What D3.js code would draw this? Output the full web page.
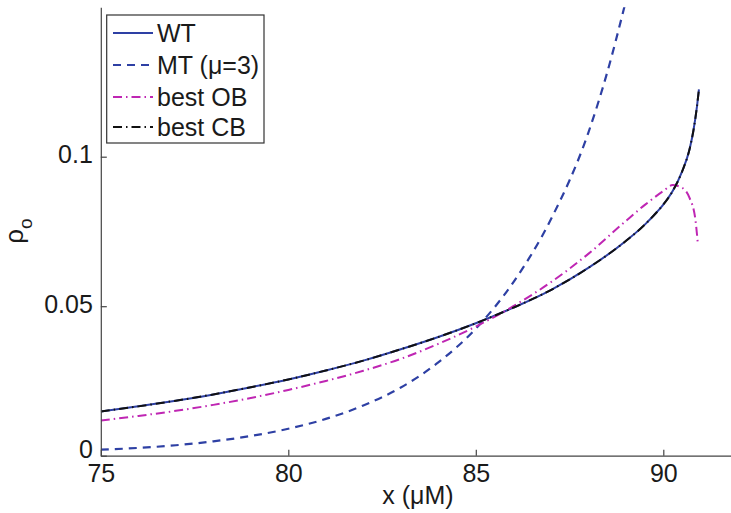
<!DOCTYPE html>
<html>
<head>
<meta charset="utf-8">
<script src="https://cdn.jsdelivr.net/npm/d3@7"></script>
<style>
html,body{margin:0;padding:0;background:#fff;}
svg{display:block;font-family:"Liberation Sans",Arial,Helvetica,sans-serif;}
</style>
</head>
<body>
<svg id="chart" width="731" height="513"></svg>
<script>
// ---- data ----
const xTicks = [75, 80, 85, 90];
const yTicks = [0, 0.05, 0.1];
const yTickLabels = ["0", "0.05", "0.1"];

const wtX = [75,76,77,78,79,80,81,82,83,84,85,86,87,88,89,89.5,89.83,90,90.25,90.5,90.7,90.8,90.9,90.95];
const wtY = [0.0148,0.0165,0.0184,0.0205,0.0229,0.0255,0.0285,0.0318,0.0356,0.0397,0.0443,0.0495,0.0554,0.0628,0.0718,0.0772,0.0815,0.0840,0.0885,0.0950,0.1025,0.1085,0.1170,0.1225];

const mtX = [75,76,77,78,79,80,81,82,83,84,85,86,87,88,88.5,89];
const mtY = [0.0020,0.0026,0.0035,0.0048,0.0066,0.0090,0.0123,0.0168,0.0228,0.0312,0.0425,0.0580,0.0790,0.1080,0.1280,0.1520];

const obX = [75,76,77,78,79,80,81,82,83,84,85,86,87,88,89,89.5,90,90.25,90.5,90.7,90.85,90.92];
const obY = [0.0118,0.0133,0.0150,0.0170,0.0193,0.0220,0.0250,0.0284,0.0324,0.0374,0.0432,0.0500,0.0580,0.0675,0.0785,0.0838,0.0885,0.0905,0.0896,0.0862,0.0795,0.0711];

const cbX = [75,76,77,78,79,80,81,82,83,84,85,86,87,88,89,89.5,89.83,90,90.25,90.5,90.7,90.8,90.9,90.95];
const cbY = [0.0148,0.0165,0.0184,0.0205,0.0229,0.0255,0.0285,0.0318,0.0356,0.0397,0.0443,0.0495,0.0554,0.0628,0.0718,0.0772,0.0815,0.0840,0.0885,0.0950,0.1025,0.1085,0.1170,0.1225];

const seriesNames = ["WT", "MT (\u03bc=3)", "best OB", "best CB"];

// ---- layout ----
const svg = d3.select("#chart");
const plotLeft = 100.8, plotBottom = 455.7, plotTop = 7.2;
const x = d3.scaleLinear().domain([75, 92]).range([plotLeft, plotLeft + 17 * 37.5]);
const y = d3.scaleLinear().domain([0, 0.15]).range([plotBottom, plotTop]);

const blue = "#2e40a4", magenta = "#bf26b3", black = "#111";
const fontSize = "25px";

const styles = [
  {color: blue, width: 2, dash: null},
  {color: blue, width: 2.2, dash: "8,6"},
  {color: magenta, width: 2, dash: "9,4,1.5,4"},
  {color: black, width: 2, dash: "9,4,1.5,4"}
];

svg.append("defs").append("clipPath").attr("id", "clip")
  .append("rect").attr("x", plotLeft).attr("y", plotTop).attr("width", 731 - plotLeft).attr("height", plotBottom - plotTop);

const line = d3.line().x(d => x(d[0])).y(d => y(d[1])).curve(d3.curveMonotoneX);
const data = [
  d3.zip(wtX, wtY),
  d3.zip(mtX, mtY),
  d3.zip(obX, obY),
  d3.zip(cbX, cbY)
];
const plot = svg.append("g").attr("clip-path", "url(#clip)");
data.forEach((d, i) => {
  plot.append("path").datum(d).attr("d", line)
    .attr("fill", "none").attr("stroke", styles[i].color)
    .attr("stroke-width", styles[i].width)
    .attr("stroke-dasharray", styles[i].dash);
});

// ---- axes ----
const axisColor = "#444";
const xAxis = svg.append("g").attr("transform", `translate(0,${plotBottom})`)
  .call(d3.axisBottom(x).tickValues(xTicks).tickFormat(d3.format("d")).tickSizeInner(-6).tickSizeOuter(0).tickPadding(9));
const yAxis = svg.append("g").attr("transform", `translate(${plotLeft},0)`)
  .call(d3.axisLeft(y).tickValues(yTicks).tickFormat((d, i) => yTickLabels[i]).tickSizeInner(-6).tickSizeOuter(0).tickPadding(8));
[xAxis, yAxis].forEach(a => {
  a.select(".domain").attr("stroke", axisColor).attr("stroke-width", 1.2);
  a.selectAll(".tick line").attr("stroke", axisColor).attr("stroke-width", 1.2);
  a.selectAll(".tick text").attr("fill", "#1a1a1a").style("font-size", fontSize).attr("font-family", null);
});
yAxis.selectAll(".tick text").attr("dy", d => d === 0 ? "0.08em" : "0.25em");

// axis labels
svg.append("text").attr("x", 418).attr("y", 504).attr("text-anchor", "middle")
  .attr("fill", "#1a1a1a").style("font-size", fontSize).text("x (\u03bcM)");
const yl = svg.append("text").attr("transform", "translate(23,231) rotate(-90)")
  .attr("text-anchor", "middle").attr("fill", "#1a1a1a").style("font-size", "26px");
yl.append("tspan").text("\u03c1");
yl.append("tspan").attr("dy", 9).style("font-size", "19px").text("o");

// ---- legend ----
const lg = svg.append("g");
lg.append("rect").attr("x", 106.7).attr("y", 15).attr("width", 157.3).attr("height", 128)
  .attr("fill", "#fff").attr("stroke", "#333").attr("stroke-width", 1.2);
const ly = [33, 65, 97, 127];
seriesNames.forEach((name, i) => {
  lg.append("line").attr("x1", 113).attr("x2", 153).attr("y1", ly[i]).attr("y2", ly[i])
    .attr("stroke", styles[i].color).attr("stroke-width", styles[i].width)
    .attr("stroke-dasharray", styles[i].dash);
  lg.append("text").attr("x", 157).attr("y", ly[i] + 9).attr("fill", "#1a1a1a")
    .style("font-size", fontSize).text(name);
});
</script>
</body>
</html>
